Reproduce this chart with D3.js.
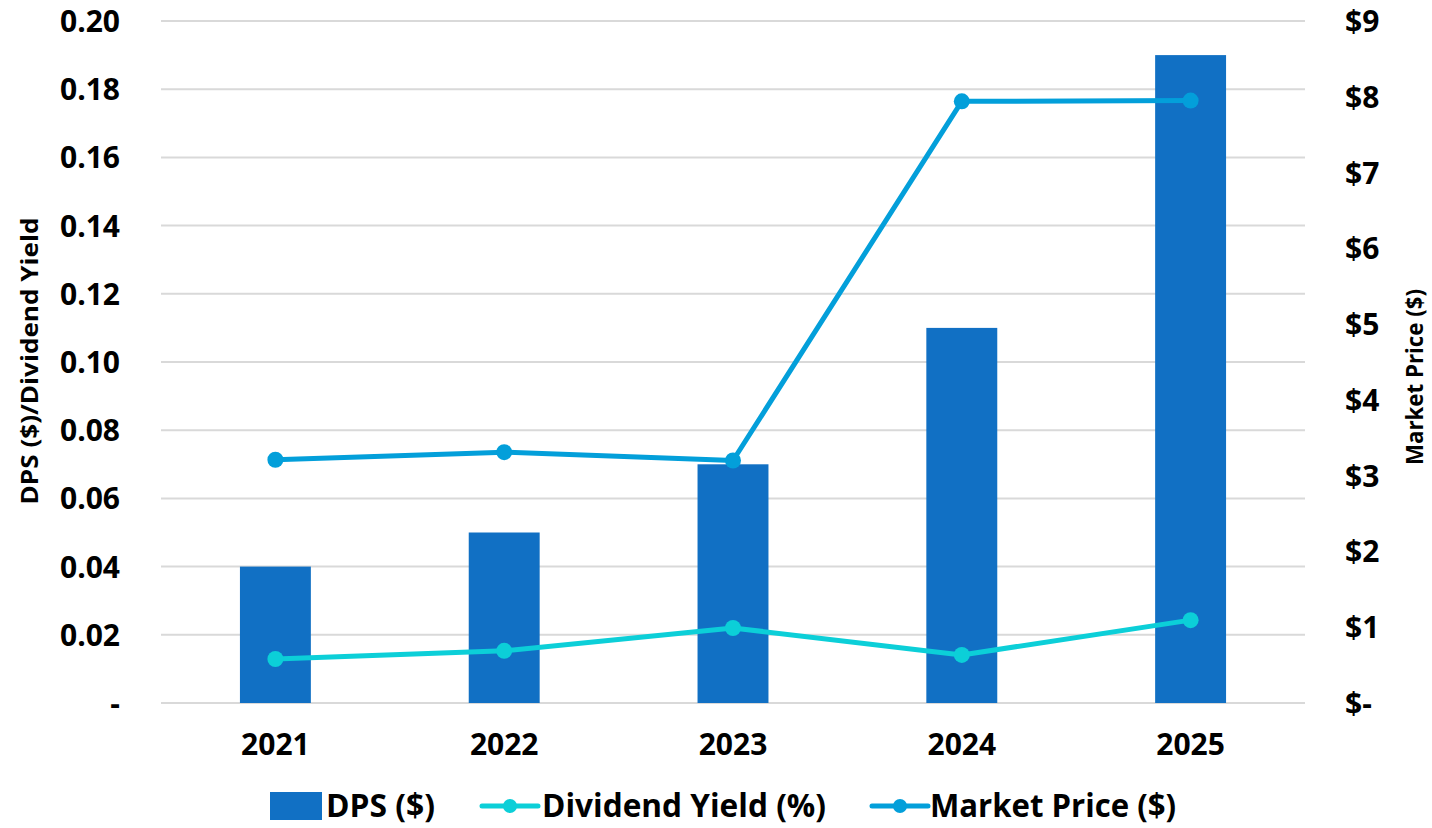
<!DOCTYPE html>
<html lang="en">
<head>
<meta charset="utf-8">
<title>DPS, Dividend Yield and Market Price</title>
<script src="https://d3js.org/d3.v7.min.js"></script>
<style>
  body { margin: 0; background: #fff; }
  svg text { font-family: "Open Sans", "DejaVu Sans", sans-serif; font-weight: 700; fill: #000; }
</style>
</head>
<body>
<div id="chart"></div>
<script>
// data
var years = ["2021", "2022", "2023", "2024", "2025"];
var dps = [0.04, 0.05, 0.07, 0.11, 0.19];
var divYield = [0.0129, 0.0153, 0.022, 0.0141, 0.0243];
var marketPrice = [3.21, 3.31, 3.2, 7.94, 7.95];
var leftTicks = [0, 0.02, 0.04, 0.06, 0.08, 0.10, 0.12, 0.14, 0.16, 0.18, 0.20];
var rightTicks = [0, 1, 2, 3, 4, 5, 6, 7, 8, 9];

var W = 1432, H = 828;
var margin = {top: 21, right: 127, bottom: 125, left: 161};
var plotW = W - margin.left - margin.right,
    plotH = H - margin.top - margin.bottom;

var colBar = "#1170c4", colYield = "#0ccfd8", colPrice = "#039fda";

var svg = d3.select("#chart").append("svg")
  .attr("width", W).attr("height", H);

var g = svg.append("g")
  .attr("transform", "translate(" + margin.left + "," + margin.top + ")");

var x = d3.scaleBand().domain(years).range([0, plotW]).paddingInner(0.69).paddingOuter(0.345);
var yL = d3.scaleLinear().domain([0, 0.20]).range([plotH, 0]);
var yR = d3.scaleLinear().domain([0, 9]).range([plotH, 0]);

// gridlines
g.append("g")
  .selectAll("line")
  .data(leftTicks)
  .join("line")
    .attr("x1", 0).attr("x2", plotW)
    .attr("y1", function(d) { return yL(d); })
    .attr("y2", function(d) { return yL(d); })
    .attr("stroke", "#d9d9d9").attr("stroke-width", 2);

// left axis
var axL = g.append("g")
  .call(d3.axisLeft(yL).tickValues(leftTicks).tickSize(0).tickPadding(41)
    .tickFormat(function(d) { return d === 0 ? "-" : d3.format(".2f")(d); }));
axL.select(".domain").remove();
axL.selectAll("text").style("font-size", "30px").attr("dy", "0.35em");

// right axis
var axR = g.append("g")
  .attr("transform", "translate(" + plotW + ",0)")
  .call(d3.axisRight(yR).tickValues(rightTicks).tickSize(0).tickPadding(40)
    .tickFormat(function(d) { return d === 0 ? "$-" : "$" + d; }));
axR.select(".domain").remove();
axR.selectAll("text").style("font-size", "30px").attr("dy", "0.35em");

// x axis
var axX = g.append("g")
  .attr("transform", "translate(0," + plotH + ")")
  .call(d3.axisBottom(x).tickSize(0).tickPadding(31));
axX.select(".domain").remove();
axX.selectAll("text").style("font-size", "30px");

// bars
g.selectAll(".bar")
  .data(dps)
  .join("rect")
    .attr("class", "bar")
    .attr("x", function(d, i) { return x(years[i]); })
    .attr("width", x.bandwidth())
    .attr("y", function(d) { return yL(d); })
    .attr("height", function(d) { return plotH - yL(d); })
    .attr("fill", colBar);

function drawLine(values, scale, color) {
  var line = d3.line()
    .x(function(d, i) { return x(years[i]) + x.bandwidth() / 2; })
    .y(function(d) { return scale(d); });
  g.append("path")
    .datum(values)
    .attr("d", line)
    .attr("fill", "none")
    .attr("stroke", color)
    .attr("stroke-width", 5)
    .attr("stroke-linejoin", "round");
  g.selectAll(null)
    .data(values)
    .join("circle")
      .attr("cx", function(d, i) { return x(years[i]) + x.bandwidth() / 2; })
      .attr("cy", function(d) { return scale(d); })
      .attr("r", 8)
      .attr("fill", color);
}
drawLine(divYield, yL, colYield);
drawLine(marketPrice, yR, colPrice);

// axis titles
svg.append("text")
  .attr("transform", "translate(38,361) rotate(-90)")
  .attr("text-anchor", "middle")
  .attr("textLength", 287).attr("lengthAdjust", "spacingAndGlyphs")
  .style("font-size", "23px")
  .text("DPS ($)/Dividend Yield");

svg.append("text")
  .attr("transform", "translate(1423,377) rotate(-90)")
  .attr("text-anchor", "middle")
  .attr("textLength", 176).attr("lengthAdjust", "spacingAndGlyphs")
  .style("font-size", "23px")
  .text("Market Price ($)");

// legend
var legend = svg.append("g").attr("transform", "translate(0,806)");
var items = [
  {label: "DPS ($)", type: "bar", color: colBar, x: 270, tx: 326, w: 109},
  {label: "Dividend Yield (%)", type: "line", color: colYield, x: 482, tx: 542, w: 284},
  {label: "Market Price ($)", type: "line", color: colPrice, x: 872, tx: 930, w: 246}
];
items.forEach(function(it) {
  if (it.type === "bar") {
    legend.append("rect").attr("x", it.x).attr("y", -14).attr("width", 52).attr("height", 28).attr("fill", it.color);
  } else {
    legend.append("line").attr("x1", it.x).attr("x2", it.x + 56).attr("y1", 0).attr("y2", 0)
      .attr("stroke", it.color).attr("stroke-width", 5).attr("stroke-linecap", "round");
    legend.append("circle").attr("cx", it.x + 28).attr("cy", 0).attr("r", 7).attr("fill", it.color);
  }
  legend.append("text").attr("x", it.tx).attr("y", 0).attr("dy", "0.35em")
    .attr("textLength", it.w).attr("lengthAdjust", "spacingAndGlyphs")
    .style("font-size", "32px").text(it.label);
});
</script>
</body>
</html>
